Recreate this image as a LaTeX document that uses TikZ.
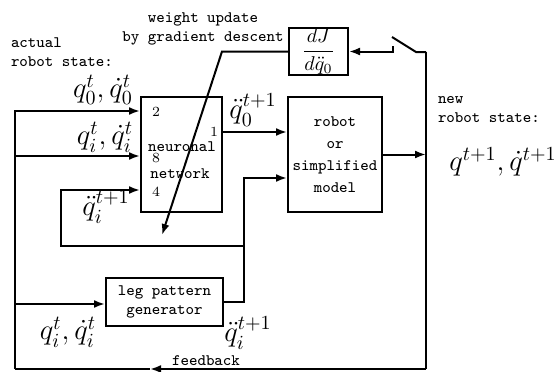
\documentclass[tikz,border=0pt]{standalone}
\usepackage{tikz}
\usetikzlibrary{arrows, arrows.meta, positioning, calc}
\usepackage{amsmath}

\begin{document}
\begin{tikzpicture}[x=0.5pt, y=-0.5pt, line width=1pt, >={Latex[length=5.5pt,width=4pt]},
        block/.style={draw, inner sep=0pt, align=center, font=\footnotesize\ttfamily},
        port/.style={font=\scriptsize, inner sep=1pt},
        txt/.style={font=\footnotesize\ttfamily, align=left, inner sep=0pt},
        sym/.style={font=\Large, inner sep=0pt}]
        \useasboundingbox (0,0) rectangle (558,371);

        % Blocks
        \node[block, minimum width=40.5pt, minimum height=57.5pt] (nn) at (181.5,154.5) {};
        \node[block, minimum width=47pt, minimum height=57.5pt] (robot) at (335,154.5) {robot\\[1.5pt]or\\[1.5pt]simplified\\[1.5pt]model};
        \node[block, minimum width=29.5pt, minimum height=23.5pt, font=\normalsize] (dj) at (318.5,51.5) {$\dfrac{dJ}{d\ddot{q}_0}$};
        \node[block, minimum width=58.5pt, minimum height=24pt] (lpg) at (164.5,302) {leg pattern\\generator};

        % Network inside
        \node[txt] (nnA) at (182,147) {neuronal};
        \node[txt] (nnB) at (180,174) {network};
        \node[port] (p2) at (156,112) {2};
        \node[port] (p8) at (156,158) {8};
        \node[port] (p4) at (156,192) {4};
        \node[port] (p1) at (214,132) {1};

        % Inputs
        \coordinate (fbl) at (15,369);
        \coordinate (in2) at (15,111);
        \coordinate (in8) at (15,156);
        \coordinate (in0) at (15,304);
        \draw[->] (fbl) -- (in2) -- (in2 -| nn.west);
        \draw[->] (in8) -- (in8 -| nn.west);
        \draw[->] (in0) -- (in0 -| lpg.west);

        % Network output
        \coordinate (o1) at (222,132);
        \draw[->] (o1) -- (o1 -| robot.west);

        % Leg pattern generator output
        \coordinate (j1) at (244,302);
        \coordinate (j2) at (244,246);
        \coordinate (j3) at (244,178);
        \draw[->] (lpg.east) -- (j1) -- (j3) -- (j3 -| robot.west);
        \coordinate (k1) at (61,246);
        \coordinate (k2) at (61,190);
        \draw[->] (j2) -- (k1) -- (k2) -- (k2 -| nn.west);

        % New state and feedback
        \coordinate (rr) at (426,154.5);
        \coordinate (sw) at (426,52);
        \coordinate (fbr) at (426,369);
        \coordinate (fba) at (150,369);
        \draw[->] (robot.east) -- (rr);
        \draw (sw) -- (fbr);
        \draw[->] (fbr) -- (fba);
        \draw (fba) -- (fbl);

        % Switch
        \coordinate (s1) at (416,52);
        \coordinate (s2) at (392,37);
        \coordinate (s3) at (393,46);
        \coordinate (s4) at (393,51.5);
        \draw (sw) -- (s1) -- (s2);
        \draw[->] (s3) -- (s4) -- (dj.east);

        % Weight update
        \coordinate (g1) at (222,51.5);
        \coordinate (g2) at (162,235);
        \draw[->] (dj.west) -- (g1) -- (g2);

        % Labels
        \node[txt, anchor=north west] (act) at (10,37) {actual\\robot state:};
        \node[txt, align=center] (wu) at (203,28.5) {weight update\\by gradient descent};
        \node[txt, anchor=north west] (new) at (437,95) {new\\robot state:};
        \node[txt] (fb) at (206,361) {feedback};
        \node[sym] (q0) at (103,90) {$q_0^t, \dot{q}_0^t$};
        \node[sym] (qi) at (105,137) {$q_i^t, \dot{q}_i^t$};
        \node[sym] (qi1) at (106,207) {$\ddot{q}_i^{t+1}$};
        \node[sym] (q01) at (253,110) {$\ddot{q}_0^{t+1}$};
        \node[sym] (qn) at (503,162) {$q^{t+1}, \dot{q}^{t+1}$};
        \node[sym] (qb) at (68,332) {$q_i^t, \dot{q}_i^t$};
        \node[sym] (qb1) at (248,333) {$\ddot{q}_i^{t+1}$};
    \end{tikzpicture}
\end{document}
